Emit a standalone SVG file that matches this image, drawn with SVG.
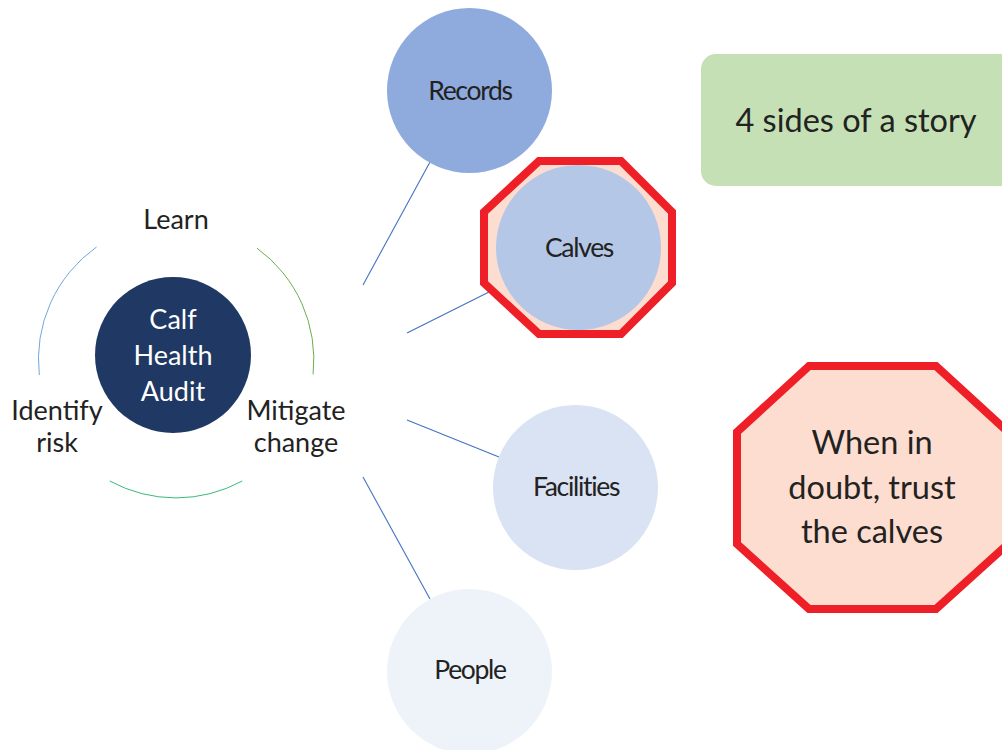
<svg xmlns="http://www.w3.org/2000/svg" width="1002" height="750" viewBox="0 0 1002 750">
<style>
  .t { font-family: Lato, "Open Sans", "Liberation Sans", sans-serif; fill: #222; text-anchor: middle; }
  .big { font-size: 27px; }
  .node { font-size: 26.5px; letter-spacing: -1.3px; }
  .note { font-size: 32.5px; }
  .conn { stroke: #4472C4; stroke-width: 1.1; fill: none; }
  .stop { stroke: #EE1F26; stroke-width: 8; fill: #FCDDD0; stroke-linejoin: miter; }
</style>
<rect width="1002" height="750" fill="#ffffff"/>

<g id="cycle">
  <path d="M 39.3 375.0 A 138 138 0 0 1 96.6 246.9" stroke="#6FA8DC" stroke-width="1" fill="none"/>
  <path d="M 257.0 248.2 A 138 138 0 0 1 313.1 374.3" stroke="#70AD47" stroke-width="1" fill="none"/>
  <path d="M 242.2 481.0 A 138 138 0 0 1 109.8 481.0" stroke="#3CB878" stroke-width="1" fill="none"/>
  <text class="t big" x="176" y="229">Learn</text>
  <text class="t big" x="57" y="420">Identify</text>
  <text class="t big" x="57" y="452">risk</text>
  <text class="t big" x="296" y="420">Mitigate</text>
  <text class="t big" x="296" y="452">change</text>
</g>

<g id="center">
  <circle cx="173" cy="355" r="78" fill="#1F3864"/>
  <text class="t big" x="173" y="329" style="fill:#ffffff">Calf</text>
  <text class="t big" x="173" y="365" style="fill:#ffffff">Health</text>
  <text class="t big" x="173" y="401" style="fill:#ffffff">Audit</text>
</g>

<g id="connectors">
  <line class="conn" x1="363" y1="285" x2="430" y2="162"/>
  <line class="conn" x1="407" y1="333" x2="505" y2="284"/>
  <line class="conn" x1="407" y1="420" x2="499" y2="457"/>
  <line class="conn" x1="363" y1="477" x2="430" y2="599"/>
</g>

<g id="records">
  <circle cx="469.5" cy="90.5" r="82.5" fill="#8FAADC"/>
  <text class="t node" x="470" y="100">Records</text>
</g>

<g id="calves">
  <polygon class="stop" points="539,161 621,161 672,212 672,283 621,334 539,334 484,283 484,212"/>
  <circle cx="578.5" cy="247.5" r="82.5" fill="#B4C7E7"/>
  <text class="t node" x="579" y="257">Calves</text>
</g>

<g id="facilities">
  <circle cx="575.5" cy="487.5" r="82.5" fill="#DAE3F3"/>
  <text class="t node" x="576" y="496">Facilities</text>
</g>

<g id="people">
  <circle cx="469.5" cy="671.5" r="82.5" fill="#EEF3F9"/>
  <text class="t node" x="470" y="679">People</text>
</g>

<g id="story">
  <rect x="701" y="54" width="330" height="132" rx="15" fill="#C5E0B4"/>
  <text class="t note" x="856" y="132">4 sides of a story</text>
</g>

<g id="trust">
  <polygon class="stop" points="809,366 936,366 1008,432 1008,544 936,609 809,609 737,544 737,432"/>
  <text class="t note" x="872" y="454">When in</text>
  <text class="t note" x="872" y="499">doubt, trust</text>
  <text class="t note" x="872" y="543">the calves</text>
</g>
</svg>
